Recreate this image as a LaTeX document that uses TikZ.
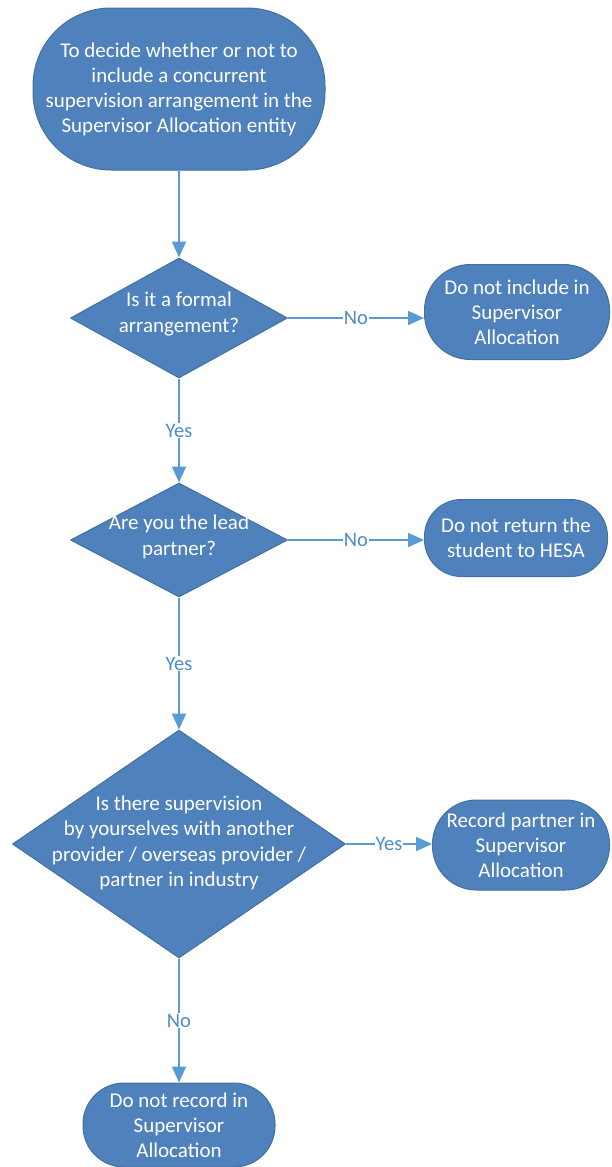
\documentclass[tikz,border=0pt]{standalone}
\usepackage{fontspec}
\setmainfont{Carlito}
\usetikzlibrary{shapes.geometric,arrows.meta}
\definecolor{boxfill}{RGB}{79,129,189}
\definecolor{boxline}{RGB}{65,113,160}
\definecolor{arrowc}{RGB}{91,155,213}
\definecolor{labc}{RGB}{79,140,200}
\tikzset{
  term/.style={draw=boxline, line width=1pt, fill=boxfill, text=white, align=center, inner sep=0pt,
    font=\fontsize{21}{25}\selectfont},
  dia/.style={diamond, draw=boxline, line width=1pt, fill=boxfill, inner sep=0pt},
  diatext/.style={text=white, align=center, font=\fontsize{21}{25.5}\selectfont, inner sep=0pt},
  conn/.style={draw=arrowc, line width=2pt, -{Triangle[length=16pt,width=14pt]}},
  lab/.style={fill=white, text=labc, inner sep=1pt, font=\fontsize{20.5}{24}\selectfont}
}
\begin{document}
\begin{tikzpicture}[x=1pt,y=-1pt]
\useasboundingbox (0,0) rectangle (611,1167);
% start
\node[term, minimum width=292pt, minimum height=162pt, rounded corners=78pt] (start) at (179,89)
  {To decide whether or not to\\include a concurrent\\supervision arrangement in the\\Supervisor Allocation entity};
% decision 1
\node[dia, minimum width=217pt, minimum height=120pt] (d1) at (179,318) {};
\node[diatext] (d1t) at (179,314) {Is it a formal\\arrangement?};
\node[term, minimum width=185pt, minimum height=95pt, rounded corners=46pt] (r1) at (517,312)
  {Do not include in\\Supervisor\\Allocation};
% decision 2
\node[dia, minimum width=217pt, minimum height=114pt] (d2) at (179,540) {};
\node[diatext] (d2t) at (179,537) {Are you the lead\\partner?};
\node[term, minimum width=183pt, minimum height=77pt, rounded corners=37pt] (r2) at (516,538)
  {Do not return the\\student to HESA};
% decision 3
\node[dia, minimum width=333pt, minimum height=228pt] (d3) at (179,844) {};
\node[diatext] (d3t) at (179,843) {Is there supervision\\by yourselves with another\\provider / overseas provider /\\partner in industry};
\node[term, minimum width=177pt, minimum height=90pt, rounded corners=44pt] (r3) at (521,845)
  {Record partner in\\Supervisor\\Allocation};
% end
\node[term, minimum width=192pt, minimum height=84pt, rounded corners=41pt] (endn) at (179,1125)
  {Do not record in\\Supervisor\\Allocation};
% connectors
\draw[conn] (start) -- (d1.north);
\draw[conn] (d1.east) -- node[lab]{No} (r1.west |- d1.east);
\draw[conn] (d1.south) -- node[lab]{Yes} (d2.north);
\draw[conn] (d2.east) -- node[lab]{No} (r2.west |- d2.east);
\draw[conn] (d2.south) -- node[lab]{Yes} (d3.north);
\draw[conn] (d3.east) -- node[lab]{Yes} (r3.west |- d3.east);
\draw[conn] (d3.south) -- node[lab]{No} (endn.north);
\end{tikzpicture}
\end{document}
